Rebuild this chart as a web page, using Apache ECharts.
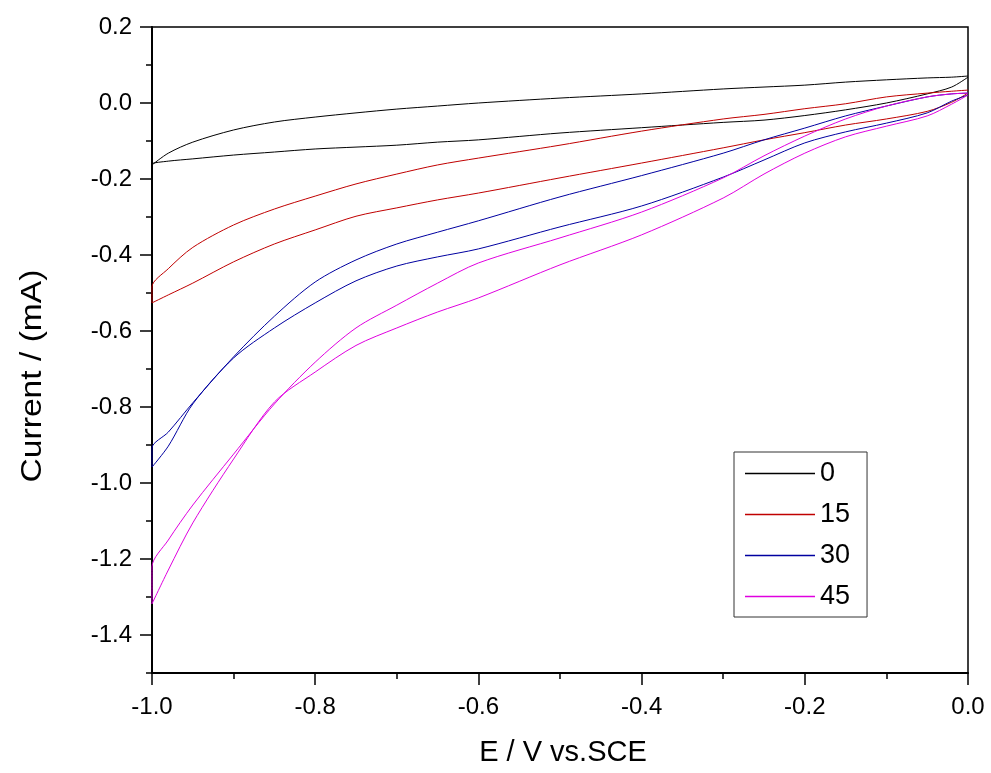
<!DOCTYPE html>
<html>
<head>
<meta charset="utf-8">
<script src="https://cdn.jsdelivr.net/npm/echarts@6/dist/echarts.min.js"></script>
<style>
html,body{margin:0;padding:0;background:#fff;}
#chart{width:991px;height:773px;}
</style>
</head>
<body>
<div id="chart"></div>
<script>
// Potential grid (V vs. SCE)
const E = [-1.0, -0.98, -0.95, -0.9, -0.85, -0.8, -0.75, -0.7, -0.65, -0.6, -0.5, -0.4, -0.3, -0.25, -0.2, -0.15, -0.1, -0.05, -0.02, 0.0];

// Series names (legend)
const seriesNames = ['0', '15', '30', '45'];
const seriesColors = ['#000000', '#c00000', '#0000a0', '#e000e0'];

// Current (mA): lower branch (cathodic scan) and upper branch (return scan)
const i0_lower = [-0.160, -0.153, -0.147, -0.137, -0.129, -0.121, -0.116, -0.111, -0.103, -0.097, -0.079, -0.065, -0.051, -0.045, -0.033, -0.018, 0.000, 0.024, 0.042, 0.068];
const i0_upper = [-0.163, -0.132, -0.103, -0.071, -0.050, -0.037, -0.026, -0.016, -0.008, 0.000, 0.013, 0.024, 0.037, 0.042, 0.047, 0.055, 0.061, 0.066, 0.068, 0.071];

const i15_lower = [-0.526, -0.505, -0.474, -0.418, -0.371, -0.334, -0.298, -0.276, -0.255, -0.237, -0.197, -0.158, -0.118, -0.097, -0.078, -0.058, -0.042, -0.022, 0.002, 0.026];
const i15_upper = [-0.484, -0.436, -0.380, -0.321, -0.279, -0.245, -0.213, -0.187, -0.163, -0.145, -0.111, -0.074, -0.042, -0.030, -0.015, -0.002, 0.016, 0.026, 0.031, 0.034];

const i30_lower = [-0.958, -0.903, -0.792, -0.671, -0.592, -0.526, -0.468, -0.429, -0.405, -0.384, -0.326, -0.271, -0.195, -0.150, -0.105, -0.076, -0.053, -0.026, 0.005, 0.021];
const i30_upper = [-0.908, -0.866, -0.789, -0.668, -0.561, -0.471, -0.413, -0.371, -0.340, -0.310, -0.247, -0.191, -0.132, -0.097, -0.066, -0.034, -0.008, 0.016, 0.024, 0.026];

const i45_lower = [-1.318, -1.229, -1.105, -0.937, -0.787, -0.708, -0.638, -0.592, -0.550, -0.513, -0.426, -0.347, -0.250, -0.187, -0.132, -0.089, -0.061, -0.034, -0.003, 0.021];
const i45_upper = [-1.221, -1.150, -1.058, -0.924, -0.792, -0.682, -0.592, -0.532, -0.474, -0.421, -0.355, -0.287, -0.197, -0.139, -0.087, -0.042, -0.008, 0.016, 0.024, 0.026];

// Tick values
const yMajorTicks = [0.2, 0.0, -0.2, -0.4, -0.6, -0.8, -1.0, -1.2, -1.4];
const yMinorTicks = [0.1, -0.1, -0.3, -0.5, -0.7, -0.9, -1.1, -1.3, -1.5];

const lowers = [i0_lower, i15_lower, i30_lower, i45_lower];
const uppers = [i0_upper, i15_upper, i30_upper, i45_upper];

function loop(lower, upper) {
  const pts = [];
  for (let k = E.length - 1; k >= 0; k--) pts.push([E[k], lower[k]]);
  for (let k = 0; k < E.length; k++) pts.push([E[k], upper[k]]);
  return pts;
}

const FONT = 'Liberation Sans, Arial, sans-serif';
const fmt = v => Number(v).toFixed(1);

const chart = echarts.init(document.getElementById('chart'), null, {renderer: 'canvas'});
chart.setOption({
  animation: false,
  backgroundColor: '#ffffff',
  grid: {left: 152, right: 23, top: 27, bottom: 100, show: true, borderColor: '#000', borderWidth: 1.5, backgroundColor: 'transparent'},
  xAxis: {
    type: 'value', min: -1, max: 0, interval: 0.2,
    axisLine: {onZero: false, lineStyle: {color: '#000', width: 2}},
    axisTick: {length: 12, lineStyle: {color: '#000', width: 1.5}},
    minorTick: {show: true, splitNumber: 2, length: 6, lineStyle: {color: '#000', width: 1.5}},
    splitLine: {show: false},
    minorSplitLine: {show: false},
    axisLabel: {margin: 22, fontSize: 24, color: '#000', fontFamily: FONT, formatter: fmt, showMinLabel: true, showMaxLabel: true}
  },
  yAxis: [
    {
      type: 'value', min: -1.5, max: 0.2, interval: 0.1, position: 'left',
      axisLine: {onZero: false, lineStyle: {color: '#000', width: 2}},
      axisTick: {customValues: yMajorTicks, length: 12, lineStyle: {color: '#000', width: 1.5}},
      axisLabel: {customValues: yMajorTicks, margin: 20, fontSize: 24, color: '#000', fontFamily: FONT, formatter: fmt},
      splitLine: {show: false}
    },
    {
      type: 'value', min: -1.5, max: 0.2, interval: 0.1, position: 'left', offset: 0,
      axisLine: {show: false, onZero: false},
      axisTick: {customValues: yMinorTicks, length: 6, lineStyle: {color: '#000', width: 1.5}},
      axisLabel: {show: false},
      splitLine: {show: false}
    }
  ],
  legend: {
    orient: 'vertical', left: 734, top: 452,
    icon: 'rect',
    itemWidth: 70, itemHeight: 1.5, itemGap: 14,
    padding: [8, 17, 7, 11],
    borderColor: '#333', borderWidth: 1, backgroundColor: '#fff',
    textStyle: {fontSize: 27, fontFamily: FONT, color: '#000', padding: [0, 0, 0, 0]},
    data: seriesNames
  },
  graphic: [
    {type: 'text', x: 33, y: 376, rotation: Math.PI / 2, scaleX: 1.12,
     style: {text: 'Current / (mA)', font: '30px ' + FONT, fill: '#000', align: 'center', verticalAlign: 'middle'}},
    {type: 'text', x: 563, y: 753,
     style: {text: 'E / V vs.SCE', font: '29px ' + FONT, fill: '#000', align: 'center', verticalAlign: 'middle'}}
  ],
  series: seriesNames.map((name, idx) => ({
    name: name, type: 'line', symbol: 'none', showSymbol: false,
    smooth: 0.3,
    xAxisIndex: 0, yAxisIndex: 0,
    lineStyle: {width: 1, color: seriesColors[idx]},
    itemStyle: {color: seriesColors[idx]},
    data: loop(lowers[idx], uppers[idx])
  }))
});
</script>
</body>
</html>
